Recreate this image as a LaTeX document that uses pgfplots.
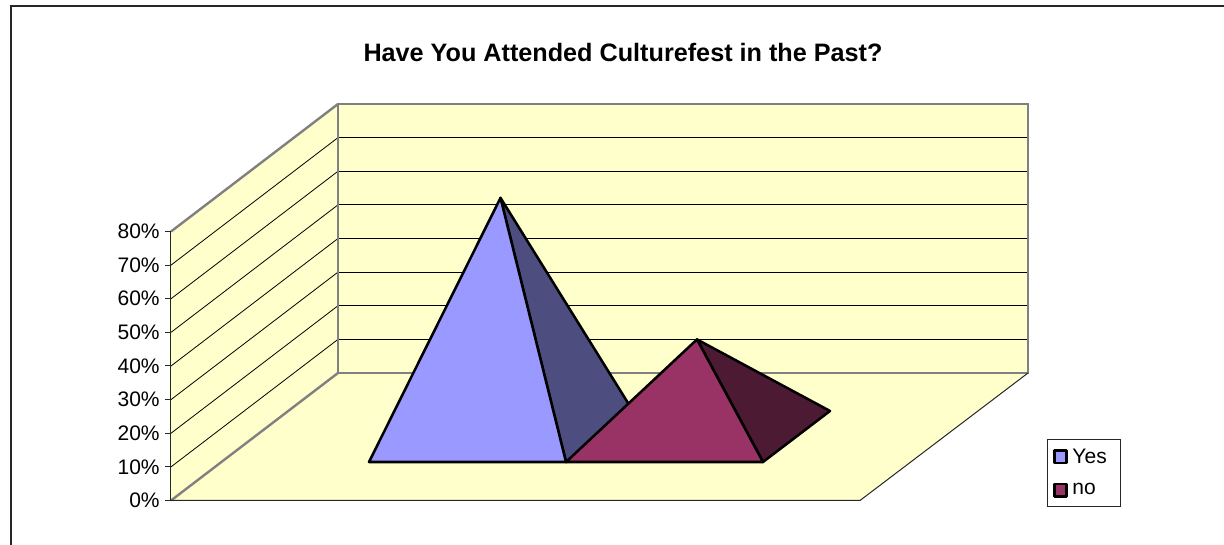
\documentclass[border=0pt]{standalone}
\usepackage{pgfplots}
\pgfplotsset{compat=1.18}
\usepackage{fontspec}
\setmainfont{Liberation Sans}
\definecolor{wall}{HTML}{FFFFCC}
\definecolor{wallline}{HTML}{808080}
\definecolor{yesf}{HTML}{9999FF}
\definecolor{yess}{HTML}{4D4D80}
\definecolor{nof}{HTML}{993366}
\definecolor{nos}{HTML}{4D1A33}
\begin{document}
\begin{tikzpicture}
\path[use as bounding box] (-128.25pt,-33.375pt) rectangle (789.75pt,375.375pt);
\begin{axis}[
  at={(0,0)}, anchor=south west,
  scale only axis, width=516.75pt, height=201.75pt,
  xmin=171, xmax=860, ymin=0, ymax=80,
  clip=false, axis on top=true,
  axis x line=none, axis y line=left,
  axis line style={-, line width=0.75pt, black!85},
  ytick={0,10,...,80},
  yticklabel={\pgfmathprintnumber{\tick}\%},
  /pgf/number format/assume math mode=true,
  yticklabel style={font=\fontsize{15.75}{18}\selectfont, inner sep=0pt, xshift=-3.8pt},
  major tick length=4.5pt,
  tick style={line width=0.75pt, black!85},
  tick align=outside,
  legend cell align=left,
  legend style={at={(axis cs:1046.9,18.2)}, anchor=north west, draw=black!85, line width=0.75pt,
    font=\fontsize{15.75}{18}\selectfont, inner xsep=4.5pt, inner ysep=6.6pt, row sep=13.4pt,
    /tikz/every odd column/.append style={column sep=3.4pt},
    /tikz/every even column/.append style={column sep=0pt},
    nodes={inner sep=0pt, anchor=west}},
  legend image code/.code={\draw[#1] (0pt,-4.6pt) rectangle (9pt,4.6pt);},
]
% walls and floor
\addplot[forget plot, fill=wall, draw=none] coordinates {(338,37.92)(1028,37.92)(1028,117.92)(338,117.92)} --cycle;
\addplot[forget plot, fill=wall, draw=none] coordinates {(171,0)(338,37.92)(338,117.92)(171,80)} --cycle;
\addplot[forget plot, fill=wall, draw=none] coordinates {(171,0)(860,0)(1028,37.92)(338,37.92)} --cycle;
% back wall gridlines
\foreach \v in {47.92,57.92,67.92,77.92,87.92,97.92,107.92}{
  \addplot[forget plot, draw=black, line width=0.75pt] coordinates {(338,\v)(1028,\v)};
}
% side wall gridlines
\addplot[forget plot, draw=black, line width=0.6pt] coordinates {(171,10)(338,47.92)};
\addplot[forget plot, draw=black, line width=0.6pt] coordinates {(171,20)(338,57.92)};
\addplot[forget plot, draw=black, line width=0.6pt] coordinates {(171,30)(338,67.92)};
\addplot[forget plot, draw=black, line width=0.6pt] coordinates {(171,40)(338,77.92)};
\addplot[forget plot, draw=black, line width=0.6pt] coordinates {(171,50)(338,87.92)};
\addplot[forget plot, draw=black, line width=0.6pt] coordinates {(171,60)(338,97.92)};
\addplot[forget plot, draw=black, line width=0.6pt] coordinates {(171,70)(338,107.92)};
% wall borders
\addplot[forget plot, draw=wallline, line width=1.8pt] coordinates {(338,37.92)(1028,37.92)(1028,117.92)(338,117.92)} --cycle;
\addplot[forget plot, draw=wallline, line width=1.8pt] coordinates {(171,80)(338,117.92)};
\addplot[forget plot, draw=wallline, line width=1.8pt] coordinates {(171,0)(338,37.92)};
% floor outer edges
\addplot[forget plot, draw=black!85, line width=0.75pt] coordinates {(171,0)(860,0)(1028,37.92)};
% Yes pyramid (71%)
\addplot[forget plot, fill=yess, draw=black, line width=1.9pt, line join=round] coordinates {(500.5,90)(566,11.45)(633,26.62)} --cycle;
\addplot[fill=yesf, draw=black, line width=1.9pt, line join=round] coordinates {(369,11.45)(566,11.45)(500.5,90)} --cycle;
\addlegendentry{Yes\rule{5.5pt}{0pt}}
% no pyramid (29%)
\addplot[forget plot, fill=nos, draw=black, line width=1.9pt, line join=round] coordinates {(697,47.9)(763,11.45)(830,26.62)} --cycle;
\addplot[fill=nof, draw=black, line width=1.9pt, line join=round] coordinates {(566,11.45)(763,11.45)(697,47.9)} --cycle;
\addlegendentry{no}
% outer frame
\addplot[forget plot, draw=black!85, line width=1.5pt] coordinates {(11.5,-13.23)(11.5,147)(1224,147)};
\node[font=\bfseries\fontsize{18.9}{22}\selectfont] at (axis cs:623,133.1) {Have You Attended Culturefest in the Past?};
\end{axis}
\end{tikzpicture}
\end{document}
